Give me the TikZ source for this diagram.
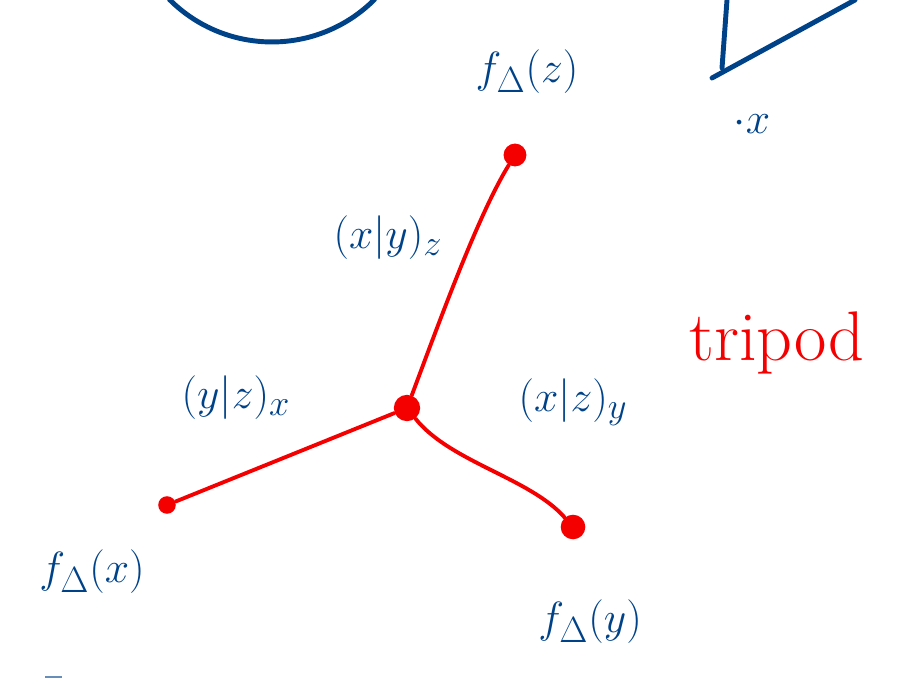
\documentclass[tikz,border=0pt]{standalone}
\usepackage{amsmath}
\definecolor{inkblue}{RGB}{0,66,136}
\definecolor{inkred}{RGB}{245,0,0}
\tikzset{
  blob/.style={circle,fill=inkred,inner sep=0pt,minimum size=#1},
  leg/.style={inkred,line width=2.2pt,line cap=round},
  ink/.style={inkblue,line width=2.8pt,line cap=round,line join=round},
  lbl/.style={inkblue,font=\fontsize{29}{34}\selectfont}
}
\begin{document}
\begin{tikzpicture}[x=0.02cm,y=-0.02cm]
\useasboundingbox (0,0) rectangle (898,678);

% leftover strokes from the board
\draw[ink] (374.5,-0.5) arc (45:135:145);
\draw[ink] (727,0) -- (722,68);
\draw[ink] (712,78) -- (855,0);
\node[lbl,anchor=center] (px) at (752,124) {$\cdot x$};
\coordinate (s1) at (45,677);
\coordinate (s2) at (62,677);
\draw[inkblue!60,line width=1.5pt] (s1) -- (s2);

% the tripod
\node[blob=15pt] (c) at (407,408) {};
\node[blob=13pt] (t) at (515,155) {};
\node[blob=10pt] (l) at (167,505) {};
\node[blob=14pt] (r) at (573,527) {};
\draw[leg] (c) .. controls (440,320) and (478,215) .. (t);
\draw[leg] (c) -- (l);
\draw[leg] (c) .. controls (450,462) and (530,478) .. (r);

% labels
\node[lbl] (fz) at (527,72) {$f_{\Delta}(z)$};
\node[lbl] (fx) at (92,572) {$f_{\Delta}(x)$};
\node[lbl] (fy) at (590,622) {$f_{\Delta}(y)$};
\node[lbl] (xyz) at (388,238) {$(x|y)_z$};
\node[lbl] (yzx) at (236,398) {$(y|z)_x$};
\node[lbl] (xzy) at (573,402) {$(x|z)_y$};
\node[inkred,font=\fontsize{40}{46}\selectfont] (tri) at (777,343) {tripod};
\end{tikzpicture}
\end{document}
